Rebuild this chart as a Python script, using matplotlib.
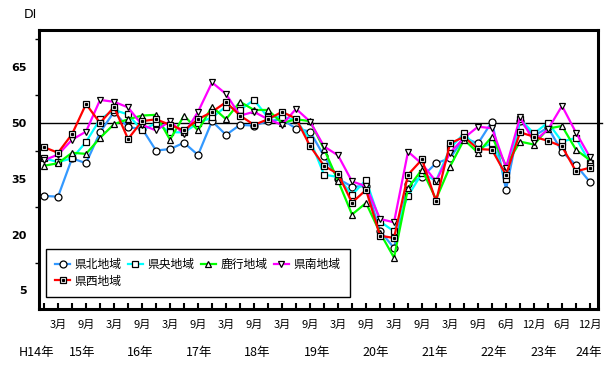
import matplotlib as mpl
mpl.use('Agg')
import matplotlib.pyplot as plt
from matplotlib.lines import Line2D
from matplotlib.legend_handler import HandlerTuple

plt.rcParams['font.family'] = ['Noto Sans CJK JP', 'DejaVu Sans']

# x軸ラベル (奇数番目の調査回のみ表示)
month_labels = ['3月', '9月'] * 8 + ['6月', '12月', '6月', '12月']
year_labels = ['H14年', '15年', '16年', '17年', '18年', '19年', '20年',
               '21年', '22年', '23年', '24年']
year_pos = [-0.5, 2.7, 6.9, 11.1, 15.2, 19.5, 23.7, 27.9, 32.1, 35.7, 38.9]

kenpoku = [30.4, 30.2, 40.5, 39.2, 47.5, 53.0, 48.8, 48.5, 42.6, 43.0,
           44.7, 41.4, 50.5, 46.8, 49.5, 49.3, 50.5, 51.0, 48.5, 47.7,
           41.1, 35.0, 32.9, 33.0, 21.0, 16.4, 33.5, 35.5, 39.2, 40.5,
           46.0, 44.5, 50.4, 32.1, 50.5, 46.5, 48.8, 42.3, 38.7, 34.1]
kenou = [40.5, 39.5, 40.5, 44.9, 51.0, 53.5, 52.3, 48.0, 50.0, 47.5,
         47.5, 50.0, 51.5, 54.4, 53.5, 56.2, 51.5, 51.7, 50.8, 45.5,
         36.1, 35.5, 30.7, 34.7, 23.5, 20.9, 30.4, 36.5, 34.5, 43.2,
         47.2, 43.0, 44.6, 35.0, 51.0, 47.2, 50.1, 45.0, 46.0, 39.2]
rokko = [38.5, 39.2, 42.0, 41.7, 46.0, 49.7, 51.0, 52.0, 52.2, 45.5,
         52.0, 48.0, 54.4, 51.0, 55.7, 53.5, 53.5, 50.0, 51.0, 50.5,
         43.0, 34.5, 25.4, 28.5, 20.5, 13.8, 32.5, 37.5, 29.5, 38.3,
         45.5, 42.0, 46.3, 38.5, 45.0, 44.2, 48.5, 49.2, 42.8, 40.0]
kennan = [40.0, 41.5, 45.5, 47.7, 56.2, 55.7, 54.2, 49.5, 48.0, 50.5,
          47.0, 53.0, 60.9, 57.8, 52.0, 53.0, 51.0, 49.5, 53.8, 50.4,
          43.7, 41.3, 34.3, 33.0, 24.2, 23.3, 42.3, 39.0, 34.3, 42.0,
          46.0, 49.0, 48.6, 38.0, 51.5, 45.0, 48.3, 54.6, 47.4, 40.8]
kensei = [43.5, 42.0, 47.0, 55.1, 50.0, 54.3, 45.7, 50.5, 51.0, 49.5,
          48.0, 51.0, 53.0, 55.6, 52.0, 49.5, 51.0, 53.0, 51.2, 43.8,
          38.5, 36.3, 28.6, 32.0, 19.7, 19.1, 36.1, 40.2, 28.9, 44.5,
          46.3, 43.0, 42.8, 36.0, 47.5, 46.3, 45.2, 43.7, 37.0, 38.0]

x = list(range(len(kenpoku)))
tick_labels = []
for i in x:
    tick_labels.append(month_labels[i // 2] if i % 2 == 1 else '')

fig = plt.figure(figsize=(6.07, 3.65), dpi=100)
ax = fig.add_axes([39 / 607, 1 - 309 / 365, 559 / 607, 279 / 365])

mk = dict(markersize=5, markerfacecolor='white', markeredgecolor='black',
          markeredgewidth=0.9, linewidth=1.6)
series = [
    ('県北地域', kenpoku, '#3399ff', 'o'),
    ('県央地域', kenou, '#00ffff', 's'),
    ('鹿行地域', rokko, '#00ff00', '^'),
    ('県南地域', kennan, '#ff00ff', 'v'),
    ('県西地域', kensei, '#ff0000', 's'),
]
handles = {}
for name, vals, col, m in series:
    ax.plot(x, vals, color=col, marker=m, **mk)
    handles[name] = Line2D([], [], color=col, marker=m, **mk)

# 県西地域のマーカーは中に点のある四角
ax.plot(x, kensei, ls='none', marker='s', markersize=1.3, color='black')
dot = Line2D([], [], ls='none', marker='s', markersize=1.3, color='black')
handles['県西地域'] = (handles['県西地域'], dot)

ax.axhline(50, xmin=0, xmax=1.008, color='black', linewidth=1, clip_on=False, zorder=1)

ax.set_xlim(-0.36, 39.57)
ax.set_ylim(0, 75)
ax.set_xticks(x)
ax.set_xticklabels(tick_labels, fontsize=8)
ax.tick_params(axis='x', direction='in', length=4, width=1.5, pad=8)
ax.set_yticks([5, 20, 35, 50, 65])
ax.set_yticklabels(['5', '20', '35', '50', '65'], fontsize=8, fontweight='bold',
                   family='DejaVu Sans')
ax.set_yticks([12.5, 27.5, 42.5, 57.5, 72.5], minor=True)
ax.tick_params(axis='y', which='major', length=0, pad=9)
ax.tick_params(axis='y', which='minor', length=3, width=1, direction='out', pad=2)
for s in ax.spines.values():
    s.set_linewidth(2.2)

for lab, p in zip(year_labels, year_pos):
    ax.text(p, -0.155, lab, transform=ax.get_xaxis_transform(), ha='center',
            va='center', fontsize=9)

fig.text(30 / 607, 1 - 14 / 365, 'DI', ha='center', va='center', fontsize=9,
         family='DejaVu Sans')

order = ['県北地域', '県西地域', '県央地域', '鹿行地域', '県南地域']
leg = ax.legend([handles[n] for n in order], order, ncol=4, loc='lower left',
                bbox_to_anchor=(0.0125, 0.043), borderaxespad=0,
                fontsize=8.5, fancybox=False,
                edgecolor='black', framealpha=1, handlelength=1.2,
                handletextpad=0.4, columnspacing=0.6, borderpad=0.8,
                labelspacing=0.3, numpoints=1,
                handler_map={tuple: HandlerTuple(ndivide=1)})
leg.get_frame().set_linewidth(1)

fig.savefig('out.png', dpi=100)
